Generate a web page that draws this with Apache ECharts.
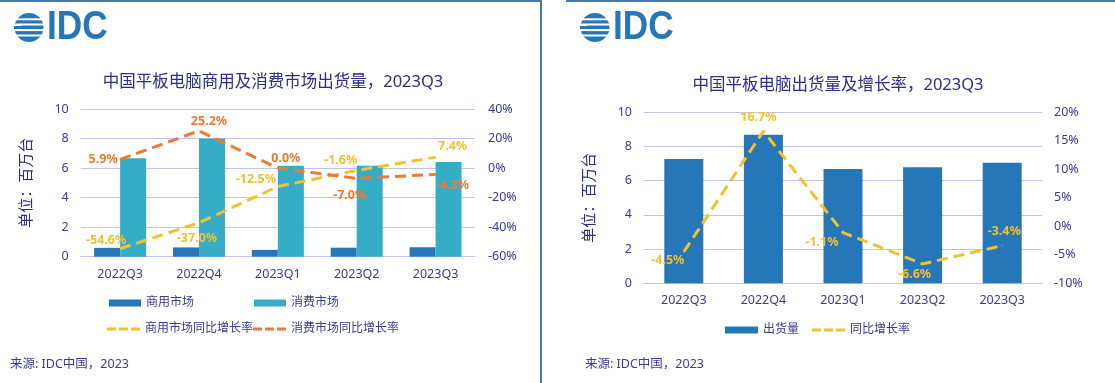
<!DOCTYPE html>
<html>
<head>
<meta charset="utf-8">
<script src="https://cdn.jsdelivr.net/npm/echarts@6/dist/echarts.min.js"></script>
<style>
html,body{margin:0;padding:0;background:#fff;}
#chart{width:1115px;height:383px;}
</style>
</head>
<body>
<div id="chart"></div>
<script>
// ---------- data ----------
const categories = ['2022Q3', '2022Q4', '2023Q1', '2023Q2', '2023Q3'];
const commercial = [0.60, 0.63, 0.46, 0.61, 0.64];
const consumer = [6.66, 8.00, 6.16, 6.15, 6.42];
const commercialYoY = [-54.6, -37.0, -12.5, -1.6, 7.4];
const consumerYoY = [5.9, 25.2, 0.0, -7.0, -4.3];
const totalShipments = [7.27, 8.69, 6.69, 6.79, 7.05];
const totalYoY = [-4.5, 16.7, -1.1, -6.6, -3.4];
const leftTicks = { min: 0, max: 10, interval: 2 };
const rightTicksA = { min: -60, max: 40, interval: 20 };
const rightTicksB = { min: -10, max: 20, interval: 5 };
const titleA = '中国平板电脑商用及消费市场出货量，2023Q3';
const titleB = '中国平板电脑出货量及增长率，2023Q3';
const unitName = '单位：百万台';
const sourceText = '来源: IDC中国，2023';

// ---------- style ----------
const NAVY = '#3a3a98';
const TITLE = '#2d2d8c';
const GRID = '#c3c3ec';
const BLUE = '#2677b8';
const TEAL = '#36adc7';
const YELLOW = '#f2c12e';
const ORANGE = '#ec7b30';
const BORDER = '#3f7cb5';
const FONT = '"Noto Sans", "Noto Sans CJK SC", sans-serif';
const dashIcon = 'path://M0,0h9v3h-9zM12,0h9v3h-9zM24,0h9v3h-9z';

function pct(p) { return p.value.toFixed(1) + '%'; }
function labeled(values, offsets) {
  return values.map((v, i) => ({
    value: v,
    label: { offset: offsets[i] }
  }));
}
function lineSeries(name, values, color, offsets, xi, yi) {
  return {
    name: name, type: 'line', xAxisIndex: xi, yAxisIndex: yi,
    data: labeled(values, offsets),
    symbol: 'circle', symbolSize: 1,
    itemStyle: { color: color },
    lineStyle: { color: color, width: 3, type: [11, 6] },
    z: 5,
    label: {
      show: true, position: 'inside', formatter: pct,
      color: color, fontWeight: 'bold', fontSize: 12.5, fontFamily: FONT,
      align: 'center', verticalAlign: 'middle'
    }
  };
}
function logo(x0) {
  const stripes = [-8.2, -3, 2.6, 8].map(dy => ({
    type: 'rect', shape: { x: x0 - 16, y: 27.5 + dy - 1, width: 32, height: 2 },
    style: { fill: '#fff' }
  }));
  return [
    { type: 'circle', shape: { cx: x0, cy: 27.5, r: 14.5 }, style: { fill: BLUE } },
    ...stripes,
    { type: 'rect', shape: { x: x0 - 16, y: 25, width: 8, height: 5 }, style: { fill: '#fff' } },
    { type: 'rect', shape: { x: x0 - 15, y: 26, width: 9, height: 3 }, style: { fill: BLUE } },
    { type: 'text', x: x0 + 18, y: 28, scaleX: 0.88,
      style: { text: 'IDC', font: 'bold 40px "Liberation Sans", Arial, sans-serif', fill: BLUE, verticalAlign: 'middle' } }
  ];
}

const axisLabel = { color: NAVY, fontSize: 12.5, fontFamily: FONT };

const option = {
  animation: false,
  textStyle: { fontFamily: FONT },
  title: [
    { text: titleA, left: 268, top: 69, textAlign: 'center',
      textStyle: { color: TITLE, fontSize: 16.5, fontWeight: 'normal', fontFamily: FONT } },
    { text: titleB, left: 833, top: 72, textAlign: 'center',
      textStyle: { color: TITLE, fontSize: 16.5, fontWeight: 'normal', fontFamily: FONT } }
  ],
  grid: [
    { left: 80.7, right: 1115 - 475, top: 109, bottom: 383 - 256.7 },
    { left: 644, right: 1115 - 1042, top: 112.3, bottom: 383 - 283.3 }
  ],
  legend: [
    { data: ['商用市场'], left: 109, top: 297, padding: 0, itemWidth: 32, itemHeight: 7, icon: 'rect',
      textStyle: { color: NAVY, fontSize: 12, fontFamily: FONT }, itemGap: 4 },
    { data: ['消费市场'], left: 254, top: 297, padding: 0, itemWidth: 32, itemHeight: 7, icon: 'rect',
      textStyle: { color: NAVY, fontSize: 12, fontFamily: FONT } },
    { data: [{ name: '商用市场同比增长率', icon: dashIcon }], left: 107, top: 323, padding: 0, itemWidth: 33, itemHeight: 3,
      textStyle: { color: NAVY, fontSize: 12, fontFamily: FONT } },
    { data: [{ name: '消费市场同比增长率', icon: dashIcon }], left: 253, top: 323, padding: 0, itemWidth: 33, itemHeight: 3,
      textStyle: { color: NAVY, fontSize: 12, fontFamily: FONT } },
    { data: [{ name: '出货量', icon: 'rect', itemStyle: { color: BLUE } }, { name: '同比增长率', icon: dashIcon }],
      left: 725, top: 324, padding: 0, itemGap: 13, itemWidth: 33, itemHeight: 7,
      textStyle: { color: NAVY, fontSize: 12, fontFamily: FONT } }
  ],
  xAxis: [
    { type: 'category', gridIndex: 0, data: categories,
      axisLine: { lineStyle: { color: GRID } }, axisTick: { show: false },
      axisLabel: Object.assign({ margin: 11 }, axisLabel) },
    { type: 'category', gridIndex: 1, data: categories,
      axisLine: { lineStyle: { color: GRID } }, axisTick: { show: false },
      axisLabel: Object.assign({ margin: 11 }, axisLabel) }
  ],
  yAxis: [
    { type: 'value', gridIndex: 0, min: leftTicks.min, max: leftTicks.max, interval: leftTicks.interval,
      name: unitName, nameLocation: 'middle', nameGap: 46,
      nameTextStyle: { color: TITLE, fontSize: 15, fontFamily: FONT },
      axisLine: { show: false }, axisTick: { show: false },
      splitLine: { lineStyle: { color: GRID } },
      axisLabel: Object.assign({ margin: 12 }, axisLabel) },
    { type: 'value', gridIndex: 0, position: 'right', min: rightTicksA.min, max: rightTicksA.max, interval: rightTicksA.interval,
      axisLine: { show: false }, axisTick: { show: false }, splitLine: { show: false },
      axisLabel: Object.assign({ margin: 13, formatter: '{value}%' }, axisLabel) },
    { type: 'value', gridIndex: 1, min: leftTicks.min, max: leftTicks.max, interval: leftTicks.interval,
      name: unitName, nameLocation: 'middle', nameGap: 47,
      nameTextStyle: { color: TITLE, fontSize: 15, fontFamily: FONT },
      axisLine: { show: false }, axisTick: { show: false },
      splitLine: { lineStyle: { color: GRID } },
      axisLabel: Object.assign({ margin: 12 }, axisLabel) },
    { type: 'value', gridIndex: 1, position: 'right', min: rightTicksB.min, max: rightTicksB.max, interval: rightTicksB.interval,
      axisLine: { show: false }, axisTick: { show: false }, splitLine: { show: false },
      axisLabel: Object.assign({ margin: 12, formatter: '{value}%' }, axisLabel) }
  ],
  series: [
    { name: '商用市场', type: 'bar', xAxisIndex: 0, yAxisIndex: 0, data: commercial,
      barWidth: 26, barGap: '0%', itemStyle: { color: BLUE } },
    { name: '消费市场', type: 'bar', xAxisIndex: 0, yAxisIndex: 0, data: consumer,
      barWidth: 26, barGap: '0%', itemStyle: { color: TEAL } },
    lineSeries('商用市场同比增长率', commercialYoY, YELLOW,
      [[-14, -8], [-2, 16], [-22, -7], [-16, -10], [17, -11]], 0, 1),
    lineSeries('消费市场同比增长率', consumerYoY, ORANGE,
      [[-17, 0], [10, -9], [8, -10], [-7, 17], [17, 11]], 0, 1),
    { name: '出货量', type: 'bar', xAxisIndex: 1, yAxisIndex: 2, data: totalShipments,
      barWidth: 39, itemStyle: { color: BLUE } },
    lineSeries('同比增长率', totalYoY, YELLOW,
      [[-16, 8], [-5, -14], [-21, 10], [-8, 11], [2, -14]], 1, 3)
  ],
  graphic: [
    { type: 'line', shape: { x1: 0, y1: 1, x2: 541, y2: 1 }, style: { stroke: BORDER, lineWidth: 2 } },
    { type: 'line', shape: { x1: 541, y1: 0, x2: 541, y2: 383 }, style: { stroke: BORDER, lineWidth: 2 } },
    { type: 'line', shape: { x1: 566, y1: 1, x2: 1115, y2: 1 }, style: { stroke: BORDER, lineWidth: 2 } },
    ...logo(29),
    ...logo(595),
    { type: 'text', x: 10, y: 364, style: { text: sourceText, font: '12.5px ' + FONT, fill: NAVY, verticalAlign: 'middle' } },
    { type: 'text', x: 585, y: 364, style: { text: sourceText, font: '12.5px ' + FONT, fill: NAVY, verticalAlign: 'middle' } }
  ]
};

const chart = echarts.init(document.getElementById('chart'), null, { renderer: 'canvas' });
chart.setOption(option);
</script>
</body>
</html>
